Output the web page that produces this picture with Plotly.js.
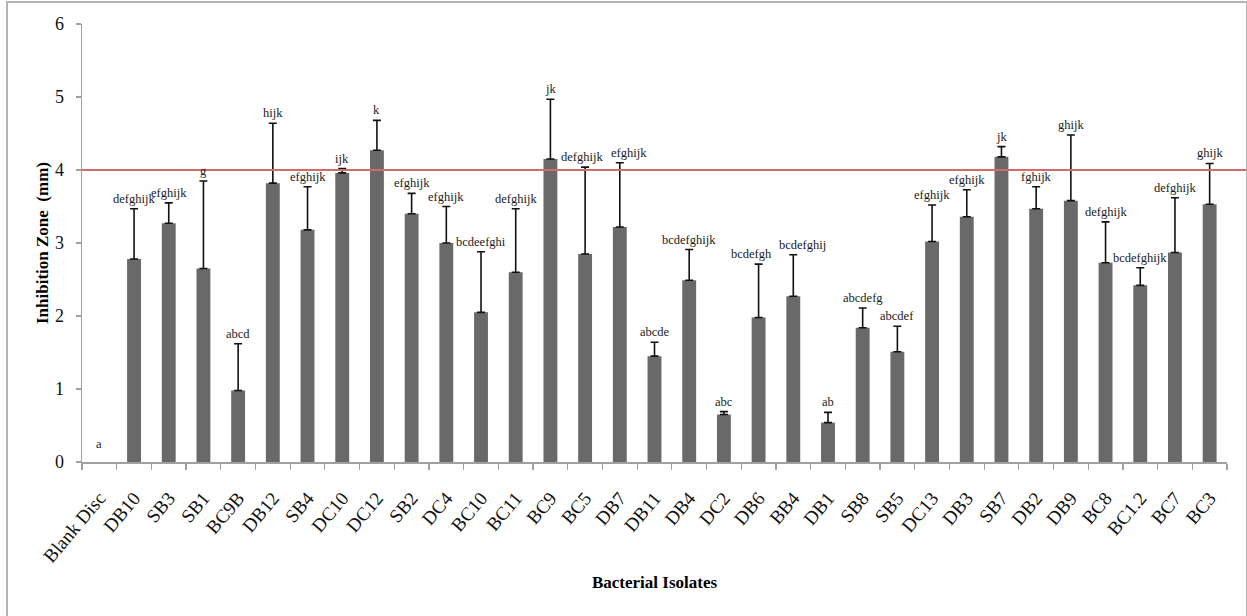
<!DOCTYPE html>
<html>
<head>
<meta charset="utf-8">
<script src="https://cdn.plot.ly/plotly-3.0.1.min.js"></script>
<style>
  html, body { margin: 0; padding: 0; background: #fff; }
  #wrap { position: relative; width: 1247px; height: 616px; overflow: hidden; }
  #chart { position: absolute; left: 0; top: 0; width: 1247px; height: 616px; }
  #frame { position: absolute; left: 6px; top: 1px; width: 1238px; height: 640px;
           border: 2px solid #b4b4b4; pointer-events: none; }
</style>
</head>
<body>
<div id="wrap">
  <div id="chart"></div>
  <div id="frame"></div>
</div>
<script>
const isolates = ["Blank Disc","DB10","SB3","SB1","BC9B","DB12","SB4","DC10","DC12","SB2","DC4",
  "BC10","BC11","BC9","BC5","DB7","DB11","DB4","DC2","DB6","BB4","DB1","SB8","SB5","DC13",
  "DB3","SB7","DB2","DB9","BC8","BC1.2","BC7","BC3"];
const zoneMeans = [0, 2.78, 3.27, 2.65, 0.98, 3.82, 3.18, 3.96, 4.27, 3.40, 3.00,
  2.05, 2.60, 4.15, 2.85, 3.22, 1.45, 2.49, 0.65, 1.98, 2.27, 0.54, 1.84, 1.51, 3.02,
  3.36, 4.18, 3.47, 3.58, 2.73, 2.42, 2.87, 3.53];
const zoneErrors = [null, 0.69, 0.28, 1.20, 0.64, 0.82, 0.59, 0.06, 0.41, 0.28, 0.50,
  0.83, 0.87, 0.82, 1.19, 0.88, 0.19, 0.42, 0.04, 0.73, 0.57, 0.14, 0.27, 0.35, 0.50,
  0.37, 0.14, 0.30, 0.90, 0.56, 0.24, 0.75, 0.56];
const groupLetters = ["a","defghijk","efghijk","g","abcd","hijk","efghijk","ijk","k","efghijk","efghijk",
  "bcdeefghi","defghijk","jk","defghijk","efghijk","abcde","bcdefghijk","abc","bcdefgh","bcdefghij","ab",
  "abcdefg","abcdef","efghijk","efghijk","jk","fghijk","ghijk","defghijk","bcdefghijk","defghijk","ghijk"];
const referenceLevel = 4;

const serif = "Liberation Serif, serif";
// small horizontal nudges (px) so crowded letter labels do not collide, as in the original
const labelNudge = { 14: -3, 15: 9, 19: -7, 20: 9 };

const trace = {
  type: "bar",
  x: isolates,
  y: zoneMeans,
  marker: { color: "#696969", line: { width: 0 } },
  error_y: { type: "data",
             array: zoneErrors.map(e => (e == null ? NaN : e)),
             arrayminus: zoneErrors.map(e => (e == null ? NaN : 0)),
             symmetric: false, color: "#111", thickness: 1.6, width: 4 },
  hoverinfo: "x+y"
};

const annotations = isolates.map((c, i) => ({
  x: c, y: zoneMeans[i] + (zoneErrors[i] || 0), xref: "x", yref: "y",
  text: groupLetters[i], showarrow: false, yanchor: "bottom",
  yshift: i === 0 ? 9 : 1, xshift: labelNudge[i] || 0,
  font: { family: serif, size: 12.5, color: "#1a1a1a" }
}));

const layout = {
  width: 1247, height: 616,
  margin: { l: 82, r: 20, t: 24, b: 154 },
  paper_bgcolor: "#fff", plot_bgcolor: "#fff",
  font: { family: serif },
  showlegend: false,
  bargap: 0.6,
  xaxis: {
    type: "category",
    tickangle: -50,
    ticks: "outside", tickson: "boundaries", ticklen: 6, tickcolor: "#a0a0a0", tickwidth: 1.2,
    showline: true, linecolor: "#a0a0a0", linewidth: 1.5,
    showgrid: false, zeroline: false,
    ticklabelstandoff: 16,
    tickfont: { family: serif, size: 19, color: "#111" },
    title: { text: "<b>Bacterial Isolates</b>", font: { family: serif, size: 17, color: "#000" }, standoff: 10 },
    automargin: false
  },
  yaxis: {
    range: [0, 6], dtick: 1,
    ticks: "outside", ticklen: 5, tickcolor: "#a0a0a0", tickwidth: 1.2,
    showline: true, linecolor: "#a0a0a0", linewidth: 1.5,
    showgrid: false, zeroline: false,
    ticklabelstandoff: 8,
    tickfont: { family: serif, size: 18, color: "#111" },
    title: { text: "<b>Inhibition Zone  (mm)</b>", font: { family: serif, size: 17, color: "#000" }, standoff: 2 },
    automargin: false
  },
  shapes: [{
    type: "line", xref: "paper", yref: "y", x0: 0, x1: (1247 - 82) / (1247 - 82 - 20),
    y0: referenceLevel, y1: referenceLevel,
    line: { color: "#d46a6a", width: 1.8 }
  }],
  annotations: annotations
};

Plotly.newPlot("chart", [trace], layout, { displayModeBar: false, staticPlot: true });
</script>
</body>
</html>
